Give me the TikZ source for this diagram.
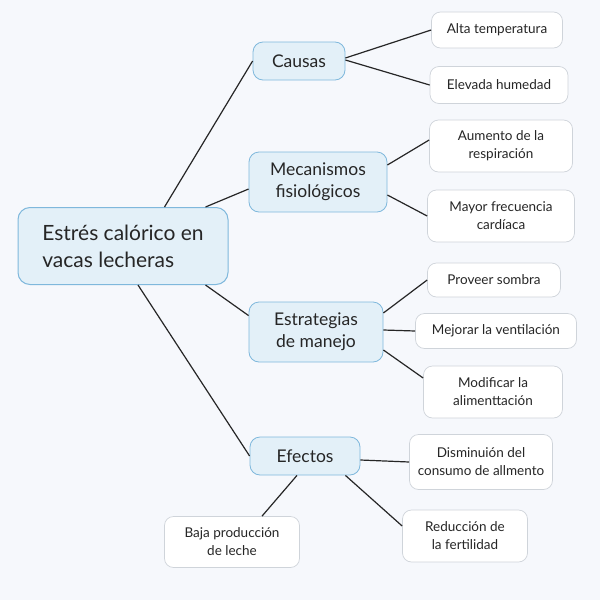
\documentclass[tikz,border=0pt]{standalone}
\usepackage{fontspec}
\setmainfont{Lato}
\usetikzlibrary{positioning}
\definecolor{bgcol}{HTML}{F6F8FC}
\definecolor{topfill}{HTML}{E3F0F8}
\definecolor{topdraw}{HTML}{7FB8DC}
\definecolor{leafdraw}{HTML}{CFD4DA}
\tikzset{
    mainbox/.style={draw=topdraw,fill=topfill,rounded corners=12pt,line width=1pt,
        minimum width=210pt,minimum height=77pt,align=left,font=\fontsize{21}{27}\selectfont,text=black!85},
    topicbox/.style={draw=topdraw,fill=topfill,rounded corners=10pt,line width=0.8pt,
        minimum height=38pt,align=center,font=\fontsize{17.5}{22}\selectfont,text=black!85},
    leafbox/.style={draw=leafdraw,fill=white,rounded corners=9pt,line width=0.7pt,
        minimum height=36pt,align=center,font=\fontsize{13.5}{18}\selectfont,text=black!85},
    link/.style={line width=1.2pt,black!85}
}
\begin{document}
\begin{tikzpicture}[x=1pt,y=-1pt]
    \fill[bgcol] (0,0) rectangle (600,600);
    \useasboundingbox (0,0) rectangle (600,600);

    % nodes
    \node[mainbox] (main) at (123,246) {Estrés calórico en\\vacas lecheras};
    \node[topicbox,minimum width=92pt] (causas) at (299,61) {Causas};
    \node[topicbox,minimum width=138pt,minimum height=60pt] (meca) at (318,182) {Mecanismos\\fisiológicos};
    \node[topicbox,minimum width=134pt,minimum height=60pt] (estra) at (316,332) {Estrategias\\de manejo};
    \node[topicbox,minimum width=110pt] (efectos) at (305,456) {Efectos};

    \node[leafbox,minimum width=131pt] (alta) at (497,30) {Alta temperatura};
    \node[leafbox,minimum width=138pt,minimum height=37pt] (elev) at (499,85) {Elevada humedad};
    \node[leafbox,minimum width=143pt,minimum height=52pt] (aum) at (501,146) {Aumento de la\\respiración};
    \node[leafbox,minimum width=147pt,minimum height=52pt] (mayor) at (501,216) {Mayor frecuencia\\cardíaca};
    \node[leafbox,minimum width=133pt,minimum height=34pt] (somb) at (494,280) {Proveer sombra};
    \node[leafbox,minimum width=161pt,minimum height=35pt] (vent) at (496,331) {Mejorar la ventilación};
    \node[leafbox,minimum width=139pt,minimum height=52pt] (alim) at (493,392) {Modificar la\\alimenttación};
    \node[leafbox,minimum width=143pt,minimum height=55pt] (cons) at (481,462) {Disminuión del\\consumo de allmento};
    \node[leafbox,minimum width=125pt,minimum height=52pt] (fert) at (465,536) {Reducción de\\la fertilidad};
    \node[leafbox,minimum width=135pt,minimum height=51pt] (baja) at (232,542) {Baja producción\\de leche};

    % edges
    \draw[link] ([xshift=147pt]main.north west) -- (causas.west);
    \draw[link] ([xshift=-23pt]main.north east) -- ([yshift=-7pt]meca.west);
    \draw[link] ([xshift=-23pt]main.south east) -- ([yshift=-14pt]estra.north west);
    \draw[link] ([xshift=15pt]main.south) -- (efectos.west);
    \draw[link] ([yshift=3pt]causas.east) -- (alta.west);
    \draw[link] ([yshift=1pt]causas.east) -- (elev.west);
    \draw[link] ([yshift=17pt]meca.east) -- ([yshift=6pt]aum.west);
    \draw[link] ([yshift=-13pt]meca.east) -- (mayor.west);
    \draw[link] ([yshift=19pt]estra.east) -- (somb.west);
    \draw[link] ([yshift=2pt]estra.east) -- (vent.west);
    \draw[link] ([yshift=-18pt]estra.east) -- ([yshift=14pt]alim.west);
    \draw[link] ([yshift=-4pt]efectos.east) -- (cons.west);
    \draw[link] ([xshift=-15pt]efectos.south east) -- ([yshift=10pt]fert.west);
    \draw[link] ([xshift=-8pt]efectos.south) -- ([xshift=30pt]baja.north);
\end{tikzpicture}
\end{document}
